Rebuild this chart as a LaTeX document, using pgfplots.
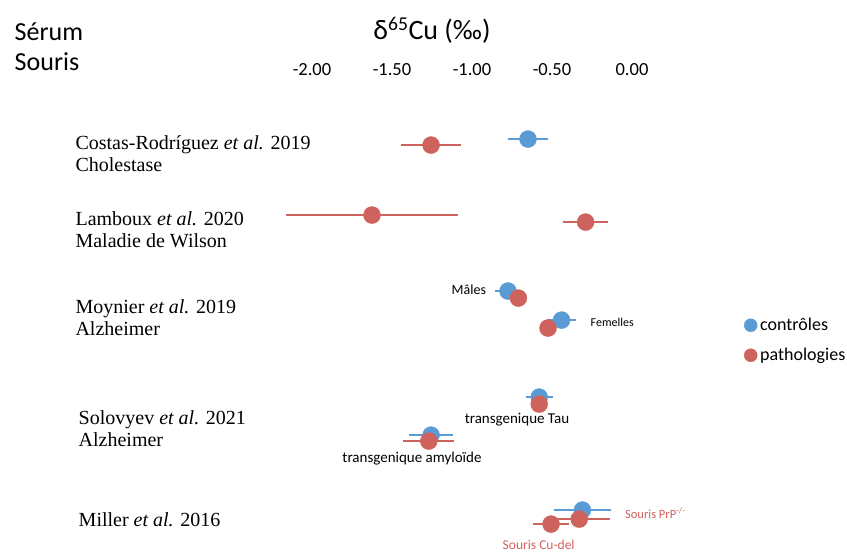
\documentclass[border=0pt]{standalone}
\usepackage{fontspec}
\setmainfont{Carlito}
\newfontfamily\serif{Liberation Serif}
\usepackage{pgfplots}
\pgfplotsset{compat=1.18}
\definecolor{cblue}{RGB}{91,155,213}
\definecolor{cred}{RGB}{206,98,92}
\newcommand{\fs}[1]{\fontsize{#1}{#1}\selectfont}
\begin{document}
\begin{tikzpicture}
\begin{axis}[
  scale only axis, width=847pt, height=552pt,
  xmin=-3.95, xmax=1.34375, ymin=0, ymax=552,
  axis line style={draw=none}, major tick length=0pt,
  xtick={-2,-1.5,-1,-0.5,0}, ytick=\empty,
  xticklabel pos=upper,
  xticklabel style={anchor=center, yshift=-69pt, font=\fs{18.5}},
  /pgf/number format/.cd, fixed, fixed zerofill, precision=2, assume math mode=true,
  /pgfplots/.cd,
  clip=false,
  legend style={at={(axis cs:0.70,235)}, anchor=north west, draw=none, fill=none,
    font=\fs{18}, row sep=14pt, inner sep=0pt, nodes={inner sep=1pt}},
  legend cell align=left,
]
% controles
\addplot[forget plot, only marks, mark=*, mark size=8.5pt, color=cblue,
  error bars/.cd, x dir=both, x explicit, error mark=none,
  error bar style={line width=1.8pt, cblue}]
  table[x=x, y=y, x error=ex] {
x y ex
-0.65 413 0.125
-0.775 261 0.08
-0.44 232 0.09
-0.58 155 0.085
-1.256 117 0.14
-0.31 42 0.18
};
% pathologies
\addplot[forget plot, only marks, mark=*, mark size=8.5pt, color=cred,
  error bars/.cd, x dir=both, x explicit, error mark=none,
  error bar style={line width=1.8pt, cred}]
  table[x=x, y=y, x error=ex] {
x y ex
-1.256 407 0.19
-1.625 337 0.535
-0.29 330 0.14
-0.71 254 0.0
-0.525 224 0.0
-0.58 148 0.0
-1.27 111 0.16
-0.33 33 0.19
-0.506 28 0.11
};
\addlegendimage{only marks, mark=*, mark size=6.5pt, color=cblue}
\addlegendentry{\hspace{2pt}contrôles}
\addlegendimage{only marks, mark=*, mark size=6.5pt, color=cred}
\addlegendentry{\hspace{2pt}pathologies}
% titles
\node[anchor=west, font=\fs{26}] at (axis cs:-3.88,520) {Sérum};
\node[anchor=west, font=\fs{26}] at (axis cs:-3.88,490) {Souris};
\node[font=\fs{28}] at (axis cs:-1.25,522) {δ\textsuperscript{65}Cu (‰)};
% study names
\node[anchor=west, align=left, font=\serif\fs{20}] at (axis cs:-3.50,398) {Costas-Rodríguez \textit{et al.} 2019\\[2pt]Cholestase};
\node[anchor=west, align=left, font=\serif\fs{20}] at (axis cs:-3.50,322) {Lamboux \textit{et al.} 2020\\[2pt]Maladie de Wilson};
\node[anchor=west, align=left, font=\serif\fs{20}] at (axis cs:-3.50,234) {Moynier \textit{et al.} 2019\\[2pt]Alzheimer};
\node[anchor=west, align=left, font=\serif\fs{20}] at (axis cs:-3.48,123) {Solovyev \textit{et al.} 2021\\[2pt]Alzheimer};
\node[anchor=west, font=\serif\fs{20}] at (axis cs:-3.48,32) {Miller \textit{et al.} 2016};
% annotations
\node[anchor=east, font=\fs{14}] at (axis cs:-0.89,262) {Mâles};
\node[anchor=west, font=\fs{12}] at (axis cs:-0.28,230) {Femelles};
\node[font=\fs{15}] at (axis cs:-0.71875,132) {transgenique Tau};
\node[font=\fs{15}] at (axis cs:-1.375,94) {transgenique amyloïde};
\node[anchor=west, font=\fs{12.5}, text=cred] at (axis cs:-0.065,39) {Souris PrP\textsuperscript{-/-}};
\node[anchor=west, font=\fs{13.5}, text=cred] at (axis cs:-0.83,7) {Souris Cu-del};
\end{axis}
\end{tikzpicture}
\end{document}
